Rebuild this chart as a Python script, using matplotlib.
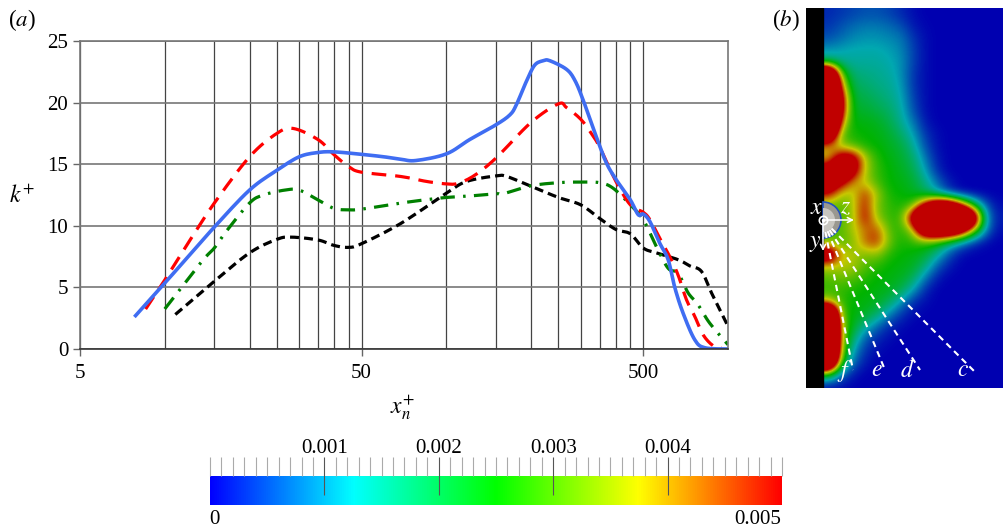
import numpy as np
from matplotlib import pyplot as plt
from matplotlib.colors import LinearSegmentedColormap
from matplotlib.patches import Wedge
from matplotlib.ticker import NullFormatter

plt.rcParams['font.family'] = ['Liberation Serif', 'DejaVu Serif']
plt.rcParams['mathtext.fontset'] = 'stix'

# curves of panel a
blue_x = [7.8, 10, 12, 15, 20, 25, 30, 35, 40, 50, 60, 69, 78, 100, 121, 150, 168, 177, 193, 206, 221, 233,
          267, 286, 306, 341, 370, 402, 450, 480, 500, 528, 572, 613, 648, 693, 762, 828, 1000]
blue_k = [2.6, 5.35, 7.4, 9.9, 12.9, 14.5, 15.6, 15.95, 16.0, 15.8, 15.6, 15.4, 15.3, 15.84, 17.0, 18.2, 19.0,
          19.8, 21.8, 23.05, 23.4, 23.4, 22.7, 21.8, 20.2, 17.2, 15.1, 13.7, 12.1, 10.9, 10.95, 10.35, 8.6,
          7.25, 4.95, 2.9, 0.75, 0.1, 0.0]
red_x = [8.55, 10, 12.3, 15, 20, 25, 28.6, 35, 40, 45, 50, 69, 85, 100, 110, 126, 150, 200, 250, 267, 300, 327,
         350, 400, 450, 500, 528, 572, 621, 665, 712, 762, 816, 885, 950]
red_k = [3.24, 5.6, 8.85, 11.85, 15.6, 17.5, 17.9, 17.0, 15.75, 14.8, 14.35, 14.0, 13.6, 13.4, 13.45, 14.1, 15.5,
         18.4, 19.9, 19.6, 18.65, 17.5, 16.4, 13.6, 11.7, 11.1, 10.5, 9.0, 7.5, 6.0, 4.0, 2.65, 1.15, 0.27, 0.08]
green_x = [10, 11.3, 13.7, 15, 16.6, 20, 22.4, 26.7, 30, 35, 40, 45, 50, 69, 87, 100, 118, 150, 159, 200, 250,
           300, 350, 391, 450, 500, 557, 613, 665, 722, 780, 861, 1000]
green_k = [3.25, 4.8, 7.25, 8.2, 9.6, 11.85, 12.5, 12.9, 12.9, 12.1, 11.4, 11.3, 11.35, 11.85, 12.15, 12.3, 12.4,
           12.6, 12.6, 13.25, 13.5, 13.55, 13.5, 13.05, 11.7, 10.5, 8.3, 6.55, 6.15, 4.55, 3.65, 2.1, 0.35]
black_x = [10.9, 15, 20, 25, 28.2, 35, 40, 45, 50, 69, 100, 118, 150, 164, 200, 250, 300, 350, 400, 450, 500,
           557, 665, 731, 805, 874, 1000]
black_k = [2.8, 5.5, 7.8, 8.9, 9.08, 8.85, 8.4, 8.25, 8.55, 10.2, 12.65, 13.6, 14.05, 14.0, 13.2, 12.3, 11.7,
           10.6, 9.7, 9.35, 8.2, 7.8, 7.25, 6.75, 6.3, 4.55, 1.85]

y_ticks = [0, 5, 10, 15, 20, 25]
x_major = [5, 50, 500]
x_minor = [10, 15, 20, 25, 30, 35, 40, 45, 100, 150, 200, 250, 300, 350, 400, 450]

# panel b field, in units of 0.001, rows top to bottom
# values over 5 are the saturated red patches
field = [
    [.3, .4, .5, .6, .6, .5, .3, .1, 0, 0, 0, 0, 0, 0, 0],
    [.4, .6, .8, .9, .9, .8, .6, .2, .05, 0, 0, 0, 0, 0, 0],
    [.6, .8, 1.0, 1.1, 1.1, 1.0, .9, .4, .1, 0, 0, 0, 0, 0, 0],
    [1.1, 1.2, 1.3, 1.3, 1.3, 1.2, 1.0, .5, .1, 0, 0, 0, 0, 0, 0],
    [1.8, 1.5, 1.4, 1.4, 1.4, 1.3, 1.1, .5, .1, 0, 0, 0, 0, 0, 0],
    [10, 3, 1.7, 1.6, 1.5, 1.4, 1.1, .4, .1, 0, 0, 0, 0, 0, 0],
    [12, 4.2, 1.9, 1.8, 1.6, 1.5, 1.2, .4, .1, 0, 0, 0, 0, 0, 0],
    [12, 5.5, 2.1, 2.0, 1.8, 1.6, 1.3, .5, .1, 0, 0, 0, 0, 0, 0],
    [12, 5.5, 2.2, 2.2, 2.0, 1.8, 1.4, .6, .1, 0, 0, 0, 0, 0, 0],
    [12, 4.2, 2.4, 2.4, 2.3, 2.0, 1.5, .9, .2, 0, 0, 0, 0, 0, 0],
    [8, 3, 2.6, 2.5, 2.4, 2.2, 1.8, 1.2, .4, .1, 0, 0, 0, 0, 0],
    [4, 3.4, 2.9, 2.6, 2.5, 2.3, 2.1, 1.5, .6, .1, 0, 0, 0, 0, 0],
    [3.8, 6, 6, 3.6, 2.7, 2.4, 2.2, 1.8, .9, .2, 0, 0, 0, 0, 0],
    [6, 8, 6, 3.6, 2.8, 2.5, 2.3, 2.0, 1.2, .3, 0, 0, 0, 0, 0],
    [7, 5.5, 4, 3.6, 2.9, 2.5, 2.4, 2.2, 1.6, .8, .2, 0, 0, 0, 0],
    [5, 3.5, 3.5, 4.8, 3.5, 2.6, 2.5, 2.3, 2.0, 1.3, .5, .1, 0, 0, 0],
    [3, 3, 3.5, 5, 3.2, 2.8, 2.6, 3.0, 5.5, 8, 8, 5.5, 2.8, .8, .1],
    [3, 3, 3.4, 5.2, 3.4, 2.8, 2.8, 6, 11, 11, 11, 11, 8, 1.4, .2],
    [3, 3, 3.6, 4.2, 4.6, 3, 2.7, 3.4, 7.5, 8, 8, 6.5, 3.6, 1.1, .1],
    [3, 3, 3.2, 4.4, 4.8, 3.2, 2.6, 2.8, 2.8, 2.6, 1.8, 1, .4, .1, 0],
    [7, 3.8, 3.6, 3.2, 3.4, 2.7, 2.5, 2.4, 2.2, 1.5, .6, .1, 0, 0, 0],
    [3.6, 3.6, 3.6, 3, 2.7, 2.5, 2.4, 2.3, 1.7, .7, .2, 0, 0, 0, 0],
    [3, 3.2, 3, 2.7, 2.5, 2.4, 2.3, 1.9, .9, .2, 0, 0, 0, 0, 0],
    [2.8, 2.8, 2.6, 2.5, 2.4, 2.3, 2.0, 1.2, .3, 0, 0, 0, 0, 0, 0],
    [3.6, 2.8, 2.5, 2.4, 2.3, 1.9, 1.1, .3, .1, 0, 0, 0, 0, 0, 0],
    [11, 3, 2.4, 2.3, 1.8, 1.0, .4, .1, 0, 0, 0, 0, 0, 0, 0],
    [12, 3.4, 2.3, 1.5, .8, .3, .1, 0, 0, 0, 0, 0, 0, 0, 0],
    [12, 3.6, 1.8, .7, .3, .1, 0, 0, 0, 0, 0, 0, 0, 0, 0],
    [12, 3.4, 1.2, .4, .1, 0, 0, 0, 0, 0, 0, 0, 0, 0, 0],
    [10, 2.8, .8, .2, 0, 0, 0, 0, 0, 0, 0, 0, 0, 0, 0],
    [2.5, .8, .2, 0, 0, 0, 0, 0, 0, 0, 0, 0, 0, 0, 0],
    [.1, .1, 0, 0, 0, 0, 0, 0, 0, 0, 0, 0, 0, 0, 0],
]

bar_major = [0.001, 0.002, 0.003, 0.004]
bar_labels = ['0.001', '0.002', '0.003', '0.004']

W = 1004
H = 530


# axes from pixel box
def box(fig, x0, y0, x1, y1):
    return fig.add_axes([x0 / W, 1 - y1 / H, (x1 - x0) / W, (y1 - y0) / H])


# round off the corners when drawing, catmull-rom through the read points
def smooth(x, y, n=8):
    px = np.log10(x)
    py = np.array(y, dtype=float)
    px = np.r_[px[0], px, px[-1]]
    py = np.r_[py[0], py, py[-1]]
    out_x = []
    out_y = []
    for i in range(1, len(px) - 2):
        for t in np.linspace(0, 1, n, endpoint=False):
            for p, out in ((px, out_x), (py, out_y)):
                a = -p[i - 1] + 3 * p[i] - 3 * p[i + 1] + p[i + 2]
                b = 2 * p[i - 1] - 5 * p[i] + 4 * p[i + 1] - p[i + 2]
                c = -p[i - 1] + p[i + 1]
                out.append(0.5 * (a * t ** 3 + b * t ** 2 + c * t) + p[i])
    out_x.append(px[-1])
    out_y.append(py[-1])
    return 10 ** np.array(out_x), np.array(out_y)


fig = plt.figure(figsize=(W / 100, H / 100), dpi=100)

# (a)
ax = box(fig, 80, 41, 728, 349)
ax.set_xscale('log')
ax.set_xlim(5, 1000)
ax.set_ylim(0, 25)
ax.set_xticks(x_major)
ax.set_xticklabels([str(v) for v in x_major])
ax.set_xticks(x_minor, minor=True)
ax.xaxis.set_minor_formatter(NullFormatter())
ax.set_yticks(y_ticks)
ax.tick_params(axis='both', which='major', labelsize=15, color='#666666', length=5, width=1)
ax.tick_params(axis='x', which='minor', length=0)
ax.tick_params(axis='x', which='major', pad=6)
ax.grid(True, axis='y', color='#777777', lw=1.2)
ax.grid(True, axis='x', which='both', color='#444444', lw=0.9)
for s in ax.spines.values():
    s.set_color('#777777')
    s.set_linewidth(1.2)
ax.spines['bottom'].set_color('#333333')
ax.set_axisbelow(True)
ax.plot(*smooth(black_x, black_k), color='black', lw=2.3, dashes=(2.8, 1.6))
ax.plot(*smooth(green_x, green_k), color='#008000', lw=2.3, dashes=(4.5, 2.6, 0.8, 2.6))
ax.plot(*smooth(red_x, red_k), color='#ff0000', lw=2.3, dashes=(4.6, 2.8))
ax.plot(*smooth(blue_x, blue_k), color='#3f6df2', lw=2.6, solid_capstyle='butt')

fig.text(8 / W, 1 - 20 / H, r'($\mathit{a}$)', fontsize=16.5, va='center')
fig.text(772 / W, 1 - 20 / H, r'($\mathit{b}$)', fontsize=16.5, va='center')
fig.text(22 / W, 1 - 197 / H, r'$k^{+}$', fontsize=17, ha='center', va='center')
fig.text(403 / W, 1 - 408 / H, r'$x_{n}^{+}$', fontsize=17, ha='center', va='center')

# (b), pixel coordinates since it is a picture
axb = box(fig, 806, 8, 1003, 388)
axb.axis('off')
dark = LinearSegmentedColormap.from_list('dark', ['#0000b0', '#00a8b0', '#00b400', '#c8c800', '#c00000'])
axb.imshow(field, cmap=dark, vmin=0, vmax=5, extent=(823, 1003, 392, 8), interpolation='bicubic', aspect='auto')
axb.set_xlim(806, 1003)
axb.set_ylim(388, 8)
axb.axvspan(806, 823, color='black', zorder=2)

# sphere
axb.add_patch(Wedge((823, 220), 18, -90, 90, fc='#9a9890', ec='#2050c0', lw=1.2, zorder=3))
axb.add_patch(Wedge((823, 220), 12, -90, 90, fc='#c8c6c0', ec='none', zorder=3))

for ex, ey in [(853, 370), (885, 370), (920, 370), (975, 372)]:
    d = np.hypot(ex - 823, ey - 220)
    sx = 823 + (ex - 823) * 12 / d
    sy = 220 + (ey - 220) * 12 / d
    axb.plot([sx, ex], [sy, ey], color='white', lw=1.5, dashes=(3, 2.2), zorder=4)

axb.annotate('', xy=(854, 220), xytext=(823, 220), zorder=5,
             arrowprops=dict(arrowstyle='->', color='white', lw=1.1, shrinkA=0, shrinkB=0, mutation_scale=9))
axb.annotate('', xy=(823, 251), xytext=(823, 220), zorder=5,
             arrowprops=dict(arrowstyle='->', color='white', lw=1.1, shrinkA=0, shrinkB=0, mutation_scale=9))
axb.plot([823], [220], 'o', ms=6, mfc='none', mec='white', mew=1.2, zorder=5)
axb.plot([823], [220], 'o', ms=1.5, color='white', zorder=5)

for t, px, py in [('x', 817, 208), ('z', 846, 208), ('y', 815, 243), ('f', 845, 371), ('e', 877, 371),
                  ('d', 907, 371), ('c', 963, 371)]:
    axb.text(px, py, '$\\mathit{' + t + '}$', color='white', fontsize=17, ha='center', va='center', zorder=6)

# colour bar
axc = box(fig, 210, 476, 782, 505)
bright = LinearSegmentedColormap.from_list('bright', ['#0000ff', '#00ffff', '#00ff00', '#ffff00', '#ff0000'])
axc.imshow(np.linspace(0, 0.005, 512).reshape(1, -1), cmap=bright, extent=(0, 0.005, 0, 1), aspect='auto')
axc.set_yticks([])
for s in axc.spines.values():
    s.set_visible(False)
axc.set_xticks(bar_major)
axc.set_xticklabels(bar_labels)
axc.set_xticks(np.arange(51) * 0.0001, minor=True)
axc.xaxis.set_minor_formatter(NullFormatter())
axc.xaxis.tick_top()
axc.tick_params(axis='x', which='major', direction='inout', length=28, width=0.8, color='#555555',
                labelsize=15, pad=-1, zorder=5)
axc.tick_params(axis='x', which='minor', direction='out', length=14, width=0.8, color='#aaaaaa')
fig.text(214 / W, 1 - 520 / H, '0', fontsize=15, ha='center', va='center')
fig.text(781 / W, 1 - 520 / H, '0.005', fontsize=15, ha='right', va='center')

plt.savefig('out.png', dpi=100)
